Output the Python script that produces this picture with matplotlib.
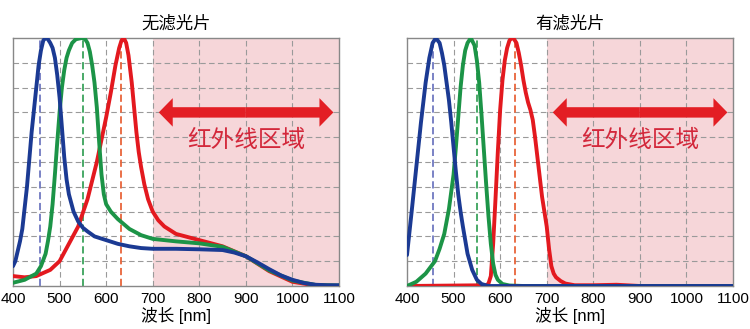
import numpy as np
import matplotlib.pyplot as plt
from matplotlib.patches import FancyArrow

plt.rcParams['font.family'] = ['Liberation Sans', 'Noto Sans CJK SC', 'DejaVu Sans']

titles = ["无滤光片", "有滤光片"]
xlabel = "波长 [nm]"
ir_label = "红外线区域"
xticks = [400, 500, 600, 700, 800, 900, 1000, 1100]

# ---- without filter (normalized response) ----
nf_blue_x = [400, 405, 410, 415, 420, 430, 440, 450, 455, 460, 465, 470, 475, 480, 485, 490, 495, 500, 505, 510,
             515, 520, 530, 540, 550, 560, 575, 600, 625, 650, 675, 700, 750, 800, 850, 875, 900, 925, 950,
             975, 1000, 1025, 1050, 1075, 1100]
nf_blue_y = [0.08, 0.10, 0.14, 0.18, 0.23, 0.40, 0.62, 0.80, 0.89, 0.95, 0.99, 1.0, 0.995, 0.98, 0.96, 0.92, 0.85, 0.76,
             0.64, 0.52, 0.43, 0.37, 0.30, 0.26, 0.235, 0.22, 0.20, 0.185, 0.17, 0.16, 0.153, 0.15, 0.15, 0.148,
             0.145, 0.135, 0.12, 0.095, 0.068, 0.043, 0.025, 0.012, 0.005, 0.003, 0.003]

nf_green_x = [400, 425, 450, 460, 470, 475, 480, 485, 490, 495, 500, 505, 510, 515, 520, 527, 535, 548, 555, 560,
              565, 570, 575, 580, 585, 590, 595, 600, 610, 625, 650, 675, 700, 750, 800, 850, 900, 950,
              1000, 1050, 1100]
nf_green_y = [0.013, 0.025, 0.05, 0.08, 0.13, 0.18, 0.24, 0.33, 0.45, 0.58, 0.70, 0.80, 0.87, 0.92, 0.95, 0.98, 0.995, 1.0,
              0.995, 0.98, 0.945, 0.89, 0.82, 0.72, 0.58, 0.45, 0.37, 0.33, 0.30, 0.27, 0.23, 0.205, 0.19, 0.18,
              0.172, 0.158, 0.12, 0.063, 0.022, 0.004, 0.002]

nf_red_x = [400, 425, 450, 480, 500, 520, 540, 560, 580, 600, 610, 620, 628, 633, 638, 643, 648, 655, 660, 665,
            670, 675, 682, 690, 700, 712, 725, 750, 800, 850, 900, 950, 1000, 1050, 1100]
nf_red_y = [0.04, 0.035, 0.04, 0.065, 0.10, 0.17, 0.24, 0.35, 0.50, 0.68, 0.78, 0.89, 0.96, 0.99, 1.0, 0.98, 0.93, 0.82,
            0.72, 0.62, 0.54, 0.48, 0.41, 0.35, 0.30, 0.265, 0.24, 0.21, 0.185, 0.16, 0.12, 0.06, 0.017, 0.002, 0.0]

# ---- with IR-cut filter ----
f_blue_x = [400, 410, 420, 430, 440, 448, 455, 462, 470, 475, 480, 485, 490, 495, 500, 505, 510, 515, 520, 530,
            540, 550, 560, 575, 1100]
f_blue_y = [0.125, 0.30, 0.48, 0.66, 0.82, 0.92, 0.98, 1.0, 0.98, 0.94, 0.89, 0.82, 0.75, 0.66, 0.56, 0.46, 0.37, 0.30,
            0.24, 0.13, 0.065, 0.025, 0.008, 0.0, 0.0]

f_green_x = [400, 420, 440, 460, 470, 480, 490, 500, 505, 510, 515, 520, 525, 530, 537, 545, 550, 555, 560, 565, 570,
             575, 580, 585, 590, 595, 605, 620, 650, 1100]
f_green_y = [0.0, 0.017, 0.05, 0.10, 0.15, 0.21, 0.31, 0.45, 0.56, 0.68, 0.80, 0.89, 0.95, 0.98, 1.0, 0.97, 0.91, 0.82,
             0.69, 0.55, 0.41, 0.28, 0.17, 0.09, 0.045, 0.025, 0.008, 0.002, 0.0, 0.0]

f_red_x = [400, 570, 575, 580, 585, 590, 595, 600, 605, 610, 615, 620, 625, 630, 635, 640, 645, 650, 655, 660, 665,
           670, 675, 680, 685, 690, 695, 700, 705, 710, 715, 720, 730, 740, 760, 800, 850, 900, 1100]
f_red_y = [0.0, 0.003, 0.01, 0.04, 0.17, 0.35, 0.54, 0.71, 0.83, 0.91, 0.96, 0.99, 1.0, 0.995, 0.98, 0.94, 0.89, 0.83,
           0.78, 0.74, 0.71, 0.67, 0.60, 0.52, 0.44, 0.36, 0.30, 0.24, 0.15, 0.08, 0.05, 0.035, 0.02, 0.01, 0.003,
           0.003, 0.005, 0.0, 0.0]

# peak marker wavelengths (dashed)
nf_marks = [457, 550, 632]
f_marks = [455, 550, 632]

BLUE = "#1b3a93"
GREEN = "#1c9447"
RED = "#e3191f"
MARK_COLORS = ["#6f78c0", "#3aa35c", "#e8643a"]
PINK = "#f6d6d9"

fig = plt.figure(figsize=(7.5, 3.29), dpi=100)
ax1 = fig.add_axes([13 / 750, 1 - 286 / 329, 326 / 750, 248 / 329])
ax2 = fig.add_axes([407 / 750, 1 - 286 / 329, 326 / 750, 248 / 329])

panels = [
    (ax1, titles[0], (nf_blue_x, nf_blue_y), (nf_green_x, nf_green_y), (nf_red_x, nf_red_y), nf_marks),
    (ax2, titles[1], (f_blue_x, f_blue_y), (f_green_x, f_green_y), (f_red_x, f_red_y), f_marks),
]

for ax, title, b, g, r, marks in panels:
    ax.axvspan(700, 1100, color=PINK, lw=0, zorder=0)
    for yv in np.arange(0.1, 1.0, 0.1):
        ax.axhline(yv, color="#9a9a9a", lw=0.8, ls=(0, (5, 3)), zorder=1)
    for xv in xticks[1:-1]:
        ax.axvline(xv, color="#9a9a9a", lw=0.8, ls=(0, (5, 3)), zorder=1)

    for xm, c in zip(marks, MARK_COLORS):
        ax.axvline(xm, color=c, lw=1.3, ls=(0, (4, 2)), zorder=2)

    ax.plot(*r, color=RED, lw=2.8, zorder=3, solid_capstyle="round", solid_joinstyle="round")
    ax.plot(*g, color=GREEN, lw=2.8, zorder=4, solid_capstyle="round", solid_joinstyle="round")
    ax.plot(*b, color=BLUE, lw=2.8, zorder=5, solid_capstyle="round", solid_joinstyle="round")

    # double-headed arrow over the IR region
    mid = 900
    for end in (713, 1088):
        ax.add_patch(FancyArrow(mid, 0.70, end - mid, 0, width=0.042, head_width=0.115,
                                head_length=30, length_includes_head=True,
                                color="#e31e24", lw=0, zorder=6))
    ax.text(900, 0.585, ir_label, color="#d3283b", fontsize=17, ha="center", va="center",
            family=['Noto Sans CJK SC', 'DejaVu Sans'], zorder=6)

    ax.set_xlim(400, 1100)
    ax.set_ylim(0, 1)
    ax.set_xticks(xticks)
    ax.set_yticks([])
    ax.tick_params(axis="x", length=0, pad=4)
    for lab in ax.get_xticklabels():
        lab.set_family(['Liberation Sans Narrow', 'Liberation Sans'])
        lab.set_fontsize(11)
    for s in ax.spines.values():
        s.set_color("#888888")
        s.set_linewidth(1.0)
    ax.set_title(title, fontsize=12.5, pad=7)
    ax.set_xlabel(xlabel, fontsize=12, labelpad=1)

fig.savefig("out.png", dpi=100)
